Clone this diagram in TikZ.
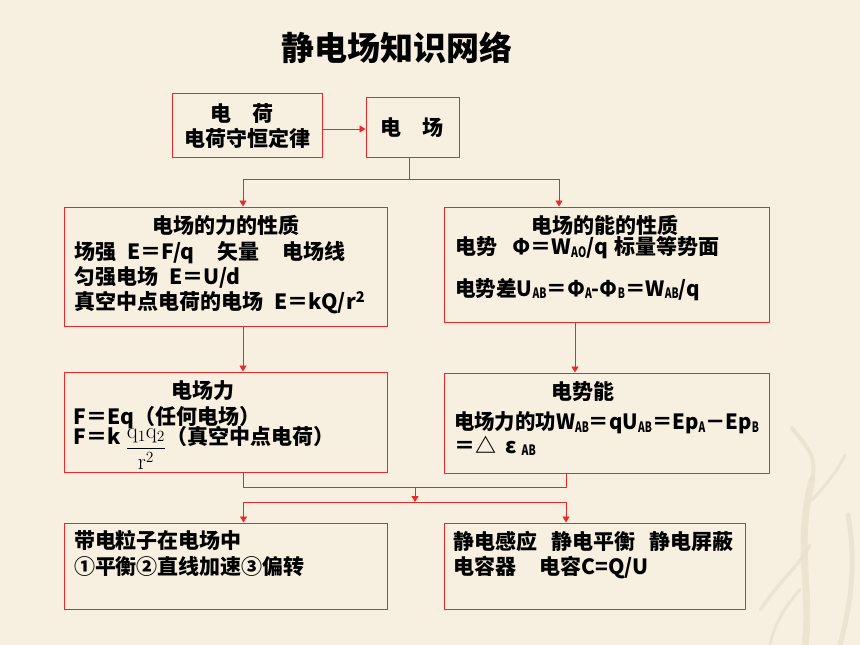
\documentclass[tikz,border=0pt]{standalone}
\usepackage{fontspec}
\usepackage{graphicx}
\newfontfamily\cjk{Noto Sans CJK SC}
\usetikzlibrary{arrows.meta}
\definecolor{bgc}{RGB}{247,240,224}
\definecolor{paintc}{RGB}{232,223,204}
\definecolor{lred}{RGB}{238,40,40}
\newcommand\mysub[1]{\raisebox{-2.5pt}{\scalebox{0.5}[0.68]{#1}}}
\begin{document}
\begin{tikzpicture}[x=1pt,y=-1pt,
  box/.style={draw=lred, line width=1pt, inner sep=0pt, rectangle},
  conn/.style={draw=lred, line width=0.9pt},
  arr/.style={conn, -{Triangle[length=6pt,width=7pt]}},
  paint/.style={draw=paintc, line cap=round, opacity=0.7},
  txt/.style={font=\cjk\bfseries\fontsize{21}{25}\selectfont, inner sep=0pt, anchor=base west, text=black},
  ctxt/.style={txt, anchor=base}]
\fill[bgc] (0,0) rectangle (860,645);
\useasboundingbox (0,0) rectangle (860,645);

% faint background branches
\draw[paint, line width=7pt] (805,645) .. controls (812,590) and (795,545) .. (812,480);
\draw[paint, line width=4pt] (812,480) .. controls (818,455) and (805,445) .. (792,428);
\draw[paint, line width=5pt] (840,645) .. controls (852,600) and (856,560) .. (848,515);
\draw[paint, line width=3.5pt] (760,610) .. controls (780,580) and (800,565) .. (810,545);
\draw[paint, line width=3pt] (812,500) .. controls (830,480) and (838,470) .. (845,455);
\draw[paint, line width=3pt] (770,645) .. controls (775,620) and (790,600) .. (800,590);

% boxes
\node[box, minimum width=150pt, minimum height=64pt] (charge) at (247,125) {};
\node[box, minimum width=93pt, minimum height=60pt] (field) at (412.5,127) {};
\node[box, minimum width=323pt, minimum height=119pt] (force) at (225.5,266.5) {};
\node[box, minimum width=325pt, minimum height=115pt] (energy) at (606.5,264.5) {};
\node[box, minimum width=323pt, minimum height=100pt] (fforce) at (225.5,422) {};
\node[box, minimum width=325pt, minimum height=100pt] (epe) at (606.5,423) {};
\node[box, minimum width=323pt, minimum height=86pt] (move) at (225.5,566) {};
\node[box, minimum width=301pt, minimum height=86pt] (static) at (594.5,566) {};

% title
\node[ctxt, font=\cjk\bfseries\fontsize{33}{33}\selectfont] (title) at (397,60.5) {静电场知识网络};

% texts
\node[ctxt] (t1a) at (242,121.3) {电　荷};
\node[ctxt] (t1b) at (247.8,146) {电荷守恒定律};
\node[ctxt] (t2) at (412.3,135.7) {电　场};

\node[ctxt] (t3a) at (225.8,233.7) {电场的力的性质};
\node[txt] (t3b) at (74,259.7) {场强\hspace{11pt}E＝F/q\hspace{23pt}矢量\hspace{23pt}电场线};
\node[txt] (t3c) at (74,284.7) {匀强电场\hspace{11pt}E＝U/d};
\node[txt] (t3d) at (74,309.7) {真空中点电荷的电场\hspace{11pt}E＝kQ/r\textsuperscript{2}};

\node[ctxt] (t4a) at (605,233) {电场的能的性质};
\node[txt] (t4b) at (455,254.7) {电势\hspace{15pt}Φ＝W\mysub{AO}/q\hspace{7pt}标量等势面};
\node[txt] (t4c) at (455,296.3) {\scalebox{0.98}[1]{电势差U\mysub{AB}＝Φ\mysub{A}-Φ\mysub{B}＝W\mysub{AB}/q}};

\node[ctxt] (t5a) at (203.3,398) {电场力};
\node[txt] (t5b) at (73.3,424.7) {F＝Eq（任何电场）};
\node[txt] (t5c) at (73.3,444.7) {F＝k\hspace{5pt}\raisebox{-9pt}{\scalebox{1.08}{\(\displaystyle\frac{\mathrm{q}_1\mathrm{q}_2}{\mathrm{r}^2}\)}}（真空中点电荷）};

\node[ctxt] (t6a) at (583.4,399.7) {电势能};
\node[txt] (t6b) at (454,429.7) {\scalebox{0.97}[1]{电场力的功W\mysub{AB}＝qU\mysub{AB}＝Ep\mysub{A}－Ep\mysub{B}}};
\node[txt] (t6c) at (454,453) {＝△\hspace{9pt}ε\hspace{5pt}\mysub{AB}};

\node[txt] (t7a) at (73.8,548) {带电粒子在电场中};
\node[txt] (t7b) at (73.8,574.7) {①平衡②直线加速③偏转};

\node[txt] (t8a) at (453.3,549.7) {静电感应\hspace{14pt}静电平衡\hspace{14pt}静电屏蔽};
\node[txt] (t8b) at (453.3,574.7) {电容器\hspace{23pt}电容C=Q/U};

% connectors
\draw[arr] ([yshift=-4pt]charge.east) -- ([yshift=-4pt]charge.east -| field.west);
\coordinate (j1) at (409,179);
\draw[conn] (j1 |- field.south) -- (j1);
\draw[arr] (j1) -| ([xshift=17.5pt]force.north);
\draw[arr] (j1) -| ([xshift=-47.5pt]energy.north);
\draw[arr] ([xshift=17.5pt]force.south) -- ([xshift=17.5pt]fforce.north);
\draw[arr] ([xshift=-31.5pt]energy.south) -- ([xshift=-31.5pt]epe.north);
\coordinate (j2) at (415,487);
\coordinate (j3) at (415,502);
\draw[conn] ([xshift=18pt]fforce.south) |- (j2);
\draw[conn] ([xshift=-40.5pt]epe.south) |- (j2);
\draw[arr] (j2) -- (j3);
\draw[arr] (j3) -| ([xshift=18pt]move.north);
\draw[arr] (j3) -| ([xshift=-28.5pt]static.north);
\end{tikzpicture}
\end{document}
